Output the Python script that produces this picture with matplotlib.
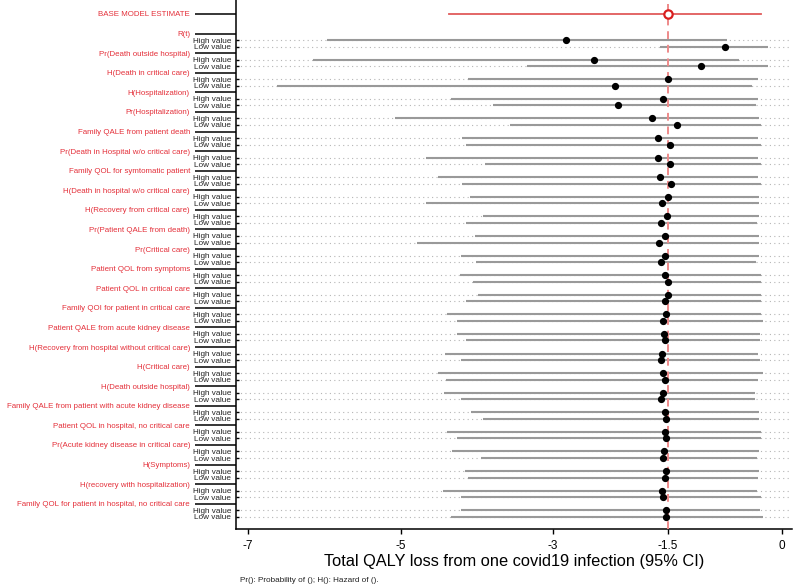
import matplotlib
matplotlib.use("Agg")
import matplotlib.pyplot as plt

plt.rcParams["font.family"] = ["Liberation Sans", "DejaVu Sans"]

# parameters, top to bottom
params = ["R(t)", "Pr(Death outside hospital)", "H(Death in critical care)",
          "H(Hospitalization)", "Pr(Hospitalization)", "Family QALE from patient death",
          "Pr(Death in Hospital w/o critical care)", "Family QOL for symtomatic patient",
          "H(Death in hospital w/o critical care)", "H(Recovery from critical care)",
          "Pr(Patient QALE from death)", "Pr(Critical care)", "Patient QOL from symptoms",
          "Patient QOL in critical care", "Family QOI for patient in critical care",
          "Patient QALE from acute kidney disease",
          "H(Recovery from hospital without critical care)", "H(Critical care)",
          "H(Death outside hospital)", "Family QALE from patient with acute kidney disease",
          "Patient QOL in hospital, no critical care",
          "Pr(Acute kidney disease in critical care)", "H(Symptoms)",
          "H(recovery with hospitalization)",
          "Family QOL for patient in hospital, no critical care"]

# "High value" rows: lower CI, estimate, upper CI
high_lo = [-5.96, -6.15, -4.12, -4.34, -5.07, -4.20, -4.67, -4.51, -4.09, -3.92, -4.02, -4.21,
           -4.22, -3.98, -4.39, -4.26, -4.42, -4.51, -4.43, -4.08, -4.39, -4.32, -4.15, -4.44, -4.21]
high_pt = [-2.83, -2.47, -1.50, -1.56, -1.70, -1.63, -1.62, -1.60, -1.49, -1.51, -1.53, -1.53,
           -1.54, -1.50, -1.52, -1.55, -1.57, -1.56, -1.56, -1.53, -1.53, -1.55, -1.52, -1.57, -1.52]
high_hi = [-0.72, -0.57, -0.32, -0.31, -0.30, -0.31, -0.32, -0.31, -0.30, -0.30, -0.30, -0.30,
           -0.28, -0.28, -0.28, -0.29, -0.31, -0.25, -0.35, -0.30, -0.28, -0.30, -0.30, -0.33, -0.29]

# "Low value" rows
low_lo = [-1.60, -3.34, -6.62, -3.79, -3.56, -4.14, -3.89, -4.20, -4.67, -4.14, -4.79, -4.01,
          -4.05, -4.14, -4.26, -4.14, -4.21, -4.41, -4.21, -3.92, -4.26, -3.95, -4.12, -4.21, -4.34]
low_pt = [-0.75, -1.06, -2.19, -2.15, -1.37, -1.47, -1.47, -1.46, -1.57, -1.58, -1.61, -1.59,
          -1.49, -1.54, -1.56, -1.53, -1.59, -1.54, -1.58, -1.52, -1.52, -1.56, -1.53, -1.56, -1.52]
low_hi = [-0.19, -0.18, -0.39, -0.34, -0.28, -0.27, -0.27, -0.27, -0.30, -0.33, -0.30, -0.34,
          -0.28, -0.28, -0.25, -0.29, -0.29, -0.31, -0.35, -0.30, -0.28, -0.33, -0.31, -0.27, -0.25]

base_lo, base_pt, base_hi = -4.36, -1.50, -0.28

xticks = [-7, -5, -3, -1.5, 0]
xtick_labels = ["-7", "-5", "-3", "-1.5", "0"]

red = "#e4303a"
px = 72 / 100  # points per pixel

fig = plt.figure(figsize=(7.97, 5.87), dpi=100)
ax = fig.add_axes([236 / 797, 1 - 529 / 587, 556 / 797, 529 / 587])

n = len(params)
label_rows = [3 + 3 * i for i in range(n)]
high_rows = [4 + 3 * i for i in range(n)]
low_rows = [5 + 3 * i for i in range(n)]

for rows, lo, pt, hi in [(high_rows, high_lo, high_pt, high_hi),
                         (low_rows, low_lo, low_pt, low_hi)]:
    for r, a, p, b in zip(rows, lo, pt, hi):
        ax.axhline(r, color="#b5b5b5", lw=0.8, ls=(0, (1, 3)), zorder=1)
        ax.plot([a, b], [r, r], color="#999999", lw=1.5, solid_capstyle="butt", zorder=2)
        ax.plot(p, r, "o", color="black", ms=4.2, zorder=4)

ax.plot([base_lo, base_hi], [0, 0], color="#e05a5a", lw=1.3, zorder=2)
ax.plot(base_pt, 0, "o", mfc="white", mec="#d81e1e", mew=1.6, ms=6, zorder=5)
ax.axvline(base_pt, color="#ee8a8a", lw=1.4, ls=(0, (4, 3)), zorder=3)

ax.set_xlim(-7.156, 0.131)
ax.set_ylim(78.87, -2.14)
ax.set_xticks(xticks)
ax.set_xticklabels(xtick_labels, fontsize=8.5)

ax.set_yticks(high_rows + low_rows)
ax.set_yticklabels(["High value"] * n + ["Low value"] * n, fontsize=5.9, color="#222222")
ax.set_yticks([0] + label_rows, minor=True)
ax.set_yticklabels(["BASE MODEL ESTIMATE"] + params, minor=True, fontsize=5.65, color=red)

ax.tick_params(axis="y", which="major", direction="in", length=3 * px, width=1.0, pad=5 * px)
ax.tick_params(axis="y", which="minor", direction="out", length=41 * px, width=1.1, pad=5 * px)
ax.tick_params(axis="x", direction="out", length=5 * px, width=1.0, pad=4.5)

for s in ["top", "right"]:
    ax.spines[s].set_visible(False)
ax.spines["left"].set_linewidth(1.1)
ax.spines["bottom"].set_linewidth(1.1)

ax.set_xlabel("Total QALY loss from one covid19 infection (95% CI)", fontsize=11.8, labelpad=1)
fig.text(240 / 797, 1 - 581 / 587, "Pr(): Probability of (); H(): Hazard of ().",
         fontsize=5.9, va="center", ha="left", color="#222222")

fig.savefig("out.png", dpi=100)
